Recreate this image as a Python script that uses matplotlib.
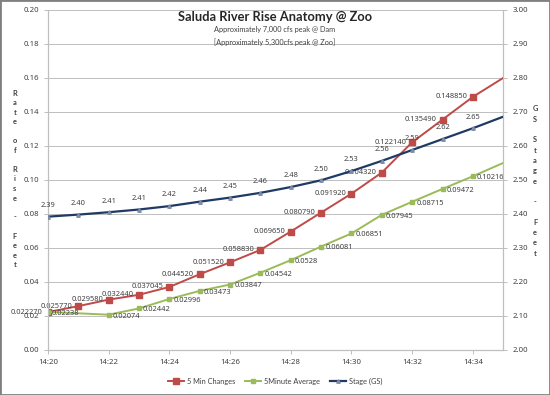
import numpy as np
import matplotlib
matplotlib.use('Agg')
import matplotlib.pyplot as plt
from matplotlib.patches import Rectangle

plt.rcParams['font.family'] = ['Lato', 'DejaVu Sans']
num_font = ['Noto Sans', 'DejaVu Sans']

# minutes after 14:20 (last point sits on the right edge, unlabelled)
minutes = [0, 1, 2, 3, 4, 5, 6, 7, 8, 9, 10, 11, 12, 13, 14, 15]

rate_5min = [0.022270, 0.025770, 0.029580, 0.032440, 0.037045, 0.044520, 0.051520,
             0.058830, 0.069650, 0.080790, 0.091920, 0.104320, 0.122140, 0.135490,
             0.148850, 0.1600]
avg_5min = [0.02238, np.nan, 0.02074, 0.02442, 0.02996, 0.03473, 0.03847, 0.04542,
            0.0528, 0.06081, 0.06851, 0.07945, 0.08715, 0.09472, 0.10216, 0.1100]
stage_gs = [2.392, 2.398, 2.405, 2.413, 2.423, 2.436, 2.448, 2.462, 2.479, 2.499,
            2.526, 2.556, 2.588, 2.620, 2.652, 2.686]

rate_lbl = ['0.022270', '0.025770', '0.029580', '0.032440', '0.037045', '0.044520',
            '0.051520', '0.058830', '0.069650', '0.080790', '0.091920', '0.104320',
            '0.122140', '0.135490', '0.148850']
avg_lbl = ['0.02238', '', '0.02074', '0.02442', '0.02996', '0.03473', '0.03847',
           '0.04542', '0.0528', '0.06081', '0.06851', '0.07945', '0.08715', '0.09472',
           '0.10216']
stage_lbl = ['2.39', '2.40', '2.41', '2.41', '2.42', '2.44', '2.45', '2.46', '2.48',
             '2.50', '2.53', '2.56', '2.59', '2.62', '2.65']

xtick_pos = [0, 2, 4, 6, 8, 10, 12, 14]
xtick_lbl = ['14:20', '14:22', '14:24', '14:26', '14:28', '14:30', '14:32', '14:34']

red = '#BE4B48'
green = '#9BBB59'
navy = '#1F3A64'
grid = '#BFBFBF'
txt = '#404040'

fig = plt.figure(figsize=(5.5, 3.95), dpi=100)
ax = fig.add_axes([0.087, 0.114, 0.828, 0.861])
ax2 = ax.twinx()

x = np.array(minutes, dtype=float)
n = len(rate_lbl)

ax.plot(x, rate_5min, color=red, lw=1.4, marker='s', ms=4.5,
        markevery=list(range(n)), label='5 Min Changes', zorder=3)
a = np.array(avg_5min)
ok = ~np.isnan(a)
ax.plot(x[ok], a[ok], color=green, lw=1.4, marker='s', ms=2.5,
        markevery=list(range(n - 1)), label='5Minute Average', zorder=3)
ax2.plot(x, stage_gs, color=navy, lw=1.6, marker='^', ms=2.5, mfc='#7F8CA8',
         mec='#7F8CA8', markevery=list(range(n)), label='Stage (GS)', zorder=3)

for xi, v, s in zip(x, rate_5min, rate_lbl):
    ax.annotate(s, (xi, v), xytext=(-4, 0), textcoords='offset points',
                ha='right', va='center', fontsize=5.4, color=txt, zorder=5,
                family=num_font)
for xi, v, s in zip(x, avg_5min, avg_lbl):
    if s:
        ax.annotate(s, (xi, v), xytext=(3, -1), textcoords='offset points',
                    ha='left', va='center', fontsize=5.4, color=txt, zorder=5,
                    family=num_font)
for xi, v, s in zip(x, stage_gs, stage_lbl):
    ax2.annotate(s, (xi, v), xytext=(0, 5.5), textcoords='offset points',
                 ha='center', va='bottom', fontsize=5.4, color=txt, zorder=5,
                 family=num_font)

ax.set_xlim(0, 15)
ax.set_ylim(0, 0.20)
ax2.set_ylim(2.0, 3.0)
ax.set_yticks(np.arange(0, 0.201, 0.02))
ax.set_yticklabels(['%.2f' % v for v in np.arange(0, 0.201, 0.02)], family=num_font)
ax2.set_yticks(np.arange(2.0, 3.001, 0.1))
ax2.set_yticklabels(['%.2f' % v for v in np.arange(2.0, 3.001, 0.1)], family=num_font)
ax.set_xticks(xtick_pos)
ax.set_xticklabels(xtick_lbl, family=num_font)
ax.grid(axis='y', color=grid, lw=0.7)
ax.set_axisbelow(True)

for a_ in (ax, ax2):
    a_.tick_params(labelsize=5.6, colors=grid, labelcolor=txt, length=3, width=0.7)
    for sp in a_.spines.values():
        sp.set_color(grid)
        sp.set_linewidth(0.8)
    a_.spines['top'].set_visible(False)

fig.text(0.5, 0.958, 'Saluda River Rise Anatomy @ Zoo', ha='center', va='center',
         fontsize=9.3, fontweight='bold', color='#262626')
fig.text(0.5, 0.925, 'Approximately 7,000 cfs peak @ Dam', ha='center', va='center',
         fontsize=5.3, color=txt)
fig.text(0.5, 0.893, '[Approximately 5,300cfs peak @ Zoo]', ha='center', va='center',
         fontsize=5.3, color=txt)

fig.text(0.027, 1 - 179 / 395, '\n'.join('Rate of Rise - Feet'), ha='center',
         va='center', fontsize=5.3, linespacing=1.42, fontweight='bold', color=txt)
fig.text(0.973, 1 - 181 / 395, '\n'.join('GS Stage - Feet'), ha='center',
         va='center', fontsize=5.3, linespacing=1.55, fontweight='bold', color=txt)

h1, l1 = ax.get_legend_handles_labels()
h2, l2 = ax2.get_legend_handles_labels()
fig.legend(h1 + h2, l1 + l2, loc='center', bbox_to_anchor=(0.5, 0.035), ncol=3,
           frameon=False, fontsize=5.3, handlelength=2.2, handletextpad=0.4,
           columnspacing=1.3, labelcolor=txt)

fig.patches.append(Rectangle((0, 0), 1, 1, transform=fig.transFigure, fill=False,
                             edgecolor='#808080', lw=2))

fig.savefig('out.png', dpi=100)
